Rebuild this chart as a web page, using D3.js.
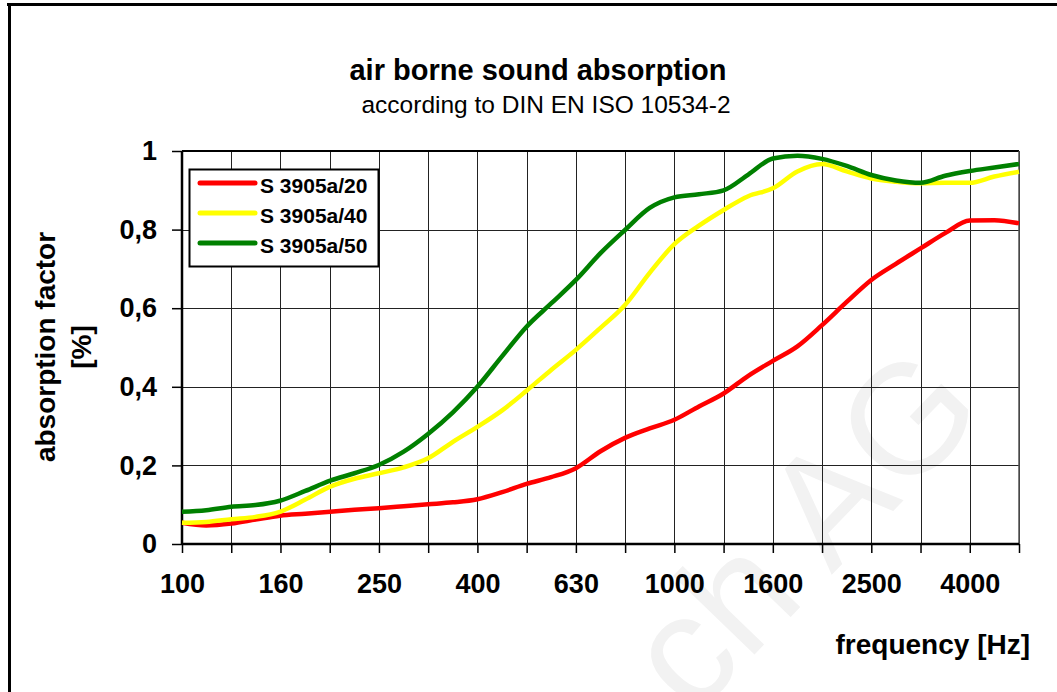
<!DOCTYPE html>
<html><head><meta charset="utf-8">
<script src="https://cdn.jsdelivr.net/npm/d3@7"></script>
<style>body{margin:0;background:#fff}svg{display:block}text{font-family:Arial,"Liberation Sans",sans-serif}</style>
</head><body><svg id="c" width="1057" height="692"></svg>
<script>
// measurement frequencies (Hz), 1/6-octave steps
const frequencies = [100,112,126,141,158,178,200,224,251,282,316,355,398,447,501,562,631,708,794,891,1000,1122,1259,1413,1585,1778,1995,2239,2512,2818,3162,3548,3981,4467,5012];
const seriesNames = ["S 3905a/20","S 3905a/40","S 3905a/50"];
const s20 = [0.054,0.047,0.052,0.062,0.072,0.077,0.082,0.087,0.091,0.096,0.101,0.106,0.114,0.132,0.153,0.170,0.193,0.236,0.270,0.294,0.316,0.350,0.383,0.428,0.466,0.503,0.557,0.616,0.672,0.713,0.752,0.791,0.823,0.824,0.816];
const s40 = [0.054,0.056,0.063,0.069,0.082,0.113,0.146,0.166,0.180,0.195,0.218,0.260,0.298,0.340,0.390,0.443,0.494,0.550,0.608,0.690,0.763,0.810,0.850,0.885,0.905,0.948,0.967,0.948,0.930,0.922,0.918,0.919,0.919,0.935,0.947];
const s50 = [0.082,0.086,0.095,0.099,0.110,0.135,0.161,0.180,0.201,0.235,0.280,0.335,0.400,0.478,0.553,0.612,0.672,0.740,0.799,0.855,0.882,0.890,0.900,0.940,0.981,0.988,0.980,0.962,0.939,0.925,0.919,0.937,0.949,0.958,0.967];
const seriesColors = ["#ff0000","#ffff00","#008000"];
const bandFrequencies = [100,125,160,200,250,315,400,500,630,800,1000,1250,1600,2000,2500,3150,4000,5000];
const xTickLabels = ["100","160","250","400","630","1000","1600","2500","4000"];
const yTicks = [0,0.2,0.4,0.6,0.8,1];
const yTickLabels = ["0","0,2","0,4","0,6","0,8","1"];
const titleText = "air borne sound absorption";
const subtitleText = "according to DIN EN ISO 10534-2";
const yTitle = ["absorption factor","[%]"];
const xTitle = "frequency [Hz]";

const svg = d3.select("#c");
const L=182, R=1019, T=151, B=544;
// exact preferred-number position of nominal third-octave band
const exact = f => 100*Math.pow(10, Math.round(10*Math.log10(f/100))/10);
const x = d3.scaleLog().domain([100, exact(5000)]).range([L,R]);
const y = d3.scaleLinear().domain([0,1]).range([B,T]);

// outer frame
svg.append("line").attr("x1",7).attr("x2",1057).attr("y1",4.5).attr("y2",4.5).attr("stroke","#000").attr("stroke-width",3);
svg.append("line").attr("x1",9.5).attr("x2",9.5).attr("y1",3).attr("y2",692).attr("stroke","#000").attr("stroke-width",3);

// watermark (partly outside the picture, as in the original)
svg.append("text").attr("transform","translate(906,417) rotate(-46)")
  .attr("x",60).attr("y",56).attr("text-anchor","end")
  .attr("font-size",156).attr("fill","#f2f2f2").text("ch AG");

// grid
const g = svg.append("g");
g.selectAll(".vg").data(bandFrequencies).enter().append("line")
  .attr("x1",d=>Math.round(x(exact(d)))+0.5).attr("x2",d=>Math.round(x(exact(d)))+0.5)
  .attr("y1",T).attr("y2",B).attr("stroke","#222").attr("stroke-width",1);
g.selectAll(".hg").data(yTicks).enter().append("line")
  .attr("x1",L).attr("x2",R).attr("y1",d=>Math.round(y(d))+0.5).attr("y2",d=>Math.round(y(d))+0.5)
  .attr("stroke","#222").attr("stroke-width",1);
svg.append("line").attr("x1",L).attr("x2",R).attr("y1",T).attr("y2",T).attr("stroke","#000").attr("stroke-width",2);
svg.append("line").attr("x1",R).attr("x2",R).attr("y1",T).attr("y2",B).attr("stroke","#555").attr("stroke-width",1.5);

// axes
const yAxis = d3.axisLeft(y).tickValues(yTicks).tickFormat((d,i)=>yTickLabels[i]).tickSize(10).tickPadding(15);
const ya = svg.append("g").attr("transform",`translate(${L},0)`).call(yAxis);
const xAxis = d3.axisBottom(x).tickValues(bandFrequencies.map(exact))
  .tickFormat((d,i)=> i%2===0 ? xTickLabels[i/2] : "").tickSize(9).tickPadding(21);
const xa = svg.append("g").attr("transform",`translate(0,${B})`).call(xAxis);
[ya,xa].forEach(a=>{
  a.select(".domain").attr("stroke","#000").attr("stroke-width",2.5);
  a.selectAll(".tick line").attr("stroke","#000").attr("stroke-width",1.5);
  a.selectAll("text").attr("font-size",27).attr("font-weight","bold").attr("fill","#000").attr("font-family","Arial, 'Liberation Sans', sans-serif");
});
xa.select(".domain").attr("d",`M${L},0H${R}`);
ya.select(".domain").attr("d",`M0,${B}V${T}`);

// lines
const series = [s20,s40,s50];
const line = d3.line().x((d,i)=>x(frequencies[i])).y(d=>y(d)).curve(d3.curveMonotoneX);
series.forEach((s,k)=>{
  svg.append("path").datum(s).attr("d",line).attr("fill","none")
    .attr("stroke",seriesColors[k]).attr("stroke-width",4.5).attr("stroke-linejoin","round");
});

// legend
const lg = svg.append("g");
lg.append("rect").attr("x",189.5).attr("y",169.5).attr("width",189).attr("height",97)
  .attr("fill","#fff").attr("stroke","#000").attr("stroke-width",2);
seriesNames.forEach((n,k)=>{
  const ly = 183 + k*30;
  lg.append("line").attr("x1",200).attr("x2",255).attr("y1",ly).attr("y2",ly)
    .attr("stroke",seriesColors[k]).attr("stroke-width",5).attr("stroke-linecap","round");
  lg.append("text").attr("x",260).attr("y",ly+10).attr("font-size",21).attr("font-weight","bold").text(n);
});

// titles
svg.append("text").attr("x",538).attr("y",80).attr("text-anchor","middle").attr("font-size",29).attr("font-weight","bold").text(titleText);
svg.append("text").attr("x",546).attr("y",113).attr("text-anchor","middle").attr("font-size",24.5).text(subtitleText);
svg.append("text").attr("transform","translate(55,347) rotate(-90)").attr("text-anchor","middle").attr("font-size",28).attr("font-weight","bold").text(yTitle[0]);
svg.append("text").attr("transform","translate(91,347) rotate(-90)").attr("text-anchor","middle").attr("font-size",28).attr("font-weight","bold").text(yTitle[1]);
svg.append("text").attr("x",1030).attr("y",654).attr("text-anchor","end").attr("font-size",28).attr("font-weight","bold").text(xTitle);
</script></body></html>
